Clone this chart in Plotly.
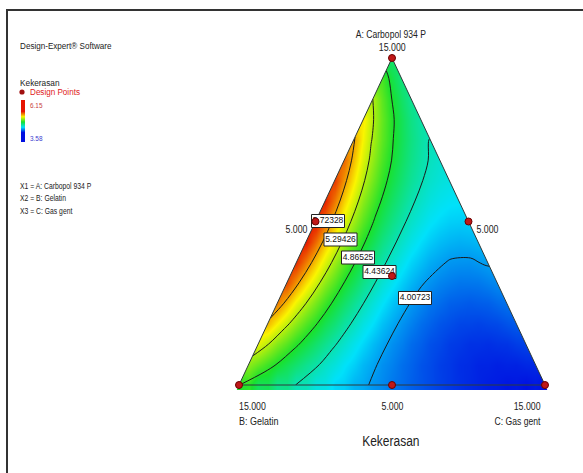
import json
import plotly.graph_objects as go

W, H = 583, 473
N = 16  # divisions of each simplex side

# Kekerasan read on the simplex lattice: row i -> A = i/N ; entry j -> C = j/N ; B = 1 - A - C
kek_r00 = [4.870, 4.713, 4.567, 4.430, 4.304, 4.188, 4.082, 3.986, 3.900, 3.824, 3.759, 3.704, 3.659, 3.624, 3.599, 3.584, 3.580]
kek_r01 = [5.181, 4.956, 4.748, 4.558, 4.385, 4.231, 4.094, 3.974, 3.873, 3.789, 3.723, 3.674, 3.644, 3.631, 3.636, 3.658]
kek_r02 = [5.450, 5.163, 4.901, 4.665, 4.454, 4.268, 4.108, 3.973, 3.863, 3.778, 3.719, 3.685, 3.676, 3.693, 3.735]
kek_r03 = [5.675, 5.334, 5.026, 4.751, 4.509, 4.300, 4.124, 3.980, 3.870, 3.792, 3.747, 3.735, 3.756, 3.810]
kek_r04 = [5.856, 5.470, 5.123, 4.817, 4.552, 4.327, 4.142, 3.998, 3.894, 3.831, 3.808, 3.826, 3.884]
kek_r05 = [5.995, 5.569, 5.192, 4.863, 4.581, 4.348, 4.163, 4.025, 3.936, 3.895, 3.901, 3.956]
kek_r06 = [6.090, 5.633, 5.233, 4.887, 4.598, 4.364, 4.185, 4.062, 3.995, 3.983, 4.027]
kek_r07 = [6.141, 5.662, 5.245, 4.892, 4.601, 4.374, 4.210, 4.109, 4.071, 4.097]
kek_r08 = [6.150, 5.654, 5.230, 4.875, 4.592, 4.379, 4.237, 4.166, 4.165]
kek_r09 = [6.115, 5.611, 5.186, 4.838, 4.569, 4.379, 4.266, 4.232]
kek_r10 = [6.037, 5.533, 5.114, 4.781, 4.534, 4.373, 4.297]
kek_r11 = [5.916, 5.418, 5.014, 4.703, 4.485, 4.361]
kek_r12 = [5.751, 5.268, 4.886, 4.604, 4.424]
kek_r13 = [5.543, 5.082, 4.729, 4.485]
kek_r14 = [5.292, 4.860, 4.545]
kek_r15 = [4.998, 4.603]
kek_r16 = [4.660]
kek_rows = [kek_r00, kek_r01, kek_r02, kek_r03, kek_r04, kek_r05, kek_r06, kek_r07, kek_r08,
            kek_r09, kek_r10, kek_r11, kek_r12, kek_r13, kek_r14, kek_r15, kek_r16]

contour_levels = [4.00723, 4.43624, 4.86525, 5.29426, 5.72328]
resp_min, resp_max = 3.58, 6.15

# design points (simplex-centroid), as proportions of A, B, C
design_A = [1, 0, 0, 0.5, 0.5, 0, 1 / 3]
design_B = [0, 1, 0, 0.5, 0, 0.5, 1 / 3]
design_C = [0, 0, 1, 0, 0.5, 0.5, 1 / 3]

# ---------------------------------------------------------------- geometry (pixels)
BLx, BRx, By, Ty = 239, 545, 385, 58
ux = (BRx - BLx) / (2 * N)
uy = (By - Ty) / N
padpx = 5
x0p, x1p = BLx - padpx, BRx + padpx
y0p, y1p = By + padpx, Ty - padpx

def to_xy(a, b, c):
    return 2 * N * c + N * a, N * a

# scattered lattice for the colour field (heatmap)
xs, ys, zs = [], [], []
for i, row in enumerate(kek_rows):
    for j, v in enumerate(row):
        xs.append(2 * j + i)
        ys.append(i)
        zs.append(v)
    # copies of the edge readings just outside the sides (hidden under the white mask)
    xs += [i - 1, 2 * N - i + 1]
    ys += [i, i]
    zs += [row[0], row[-1]]

# carpet (A index, C index) grid for the contour lines
a_idx = list(range(N + 1))
c_idx = list(range(N + 1))
carp_x = [[2 * j + i for i in a_idx] for j in c_idx]
carp_y = [[i for i in a_idx] for j in c_idx]
carp_z = [[kek_rows[i][min(j, N - i)] for i in a_idx] for j in c_idx]

colorscale = [[0.0, 'rgb(0,15,225)'], [0.25, 'rgb(0,225,250)'], [0.5, 'rgb(25,225,45)'],
              [0.75, 'rgb(250,245,0)'], [1.0, 'rgb(230,20,0)']]

FONT = "Liberation Sans, Arial, sans-serif"

fig = go.Figure()
fig.add_trace(go.Heatmap(x=xs, y=ys, z=zs, zmin=resp_min, zmax=resp_max, zauto=False,
                         colorscale=colorscale, zsmooth='best', connectgaps=True,
                         showscale=False, hoverinfo='skip'))

hidden_axis = dict(showgrid=False, showline=False, showticklabels='none', startline=False,
                   endline=False, minorgridcount=0, smoothing=0, gridcolor='rgba(0,0,0,0)',
                   linecolor='rgba(0,0,0,0)')
fig.add_trace(go.Carpet(carpet='tri', a=a_idx, b=c_idx, x=carp_x, y=carp_y,
                        aaxis=hidden_axis, baxis=hidden_axis))
step = (contour_levels[-1] - contour_levels[0]) / (len(contour_levels) - 1)
fig.add_trace(go.Contourcarpet(
    carpet='tri', z=carp_z, autocontour=False, showscale=False,
    contours=dict(start=contour_levels[0], end=contour_levels[-1] + 1e-4, size=step,
                  coloring='none', showlabels=False),
    line=dict(color='#1a1a1a', width=1, smoothing=1)))

# white mask outside the triangle
mx = [-3, 0, N, 2 * N, 2 * N + 3, 2 * N + 3, -3, -3]
my = [-3, 0, N, 0, -3, N + 3, N + 3, -3]
fig.add_trace(go.Scatter(x=mx, y=my, fill='toself', fillcolor='white', mode='lines',
                         line=dict(width=0, color='white'), hoverinfo='skip', showlegend=False))
# triangle outline
fig.add_trace(go.Scatter(x=[0, 2 * N, N, 0], y=[0, 0, N, 0], mode='lines',
                         line=dict(color='#2e3a3a', width=1), hoverinfo='skip', showlegend=False))

# boxed contour labels
label_px = [(415, 298), (379.5, 272), (358, 257.5), (340.5, 239.5), (328, 221)]
hw, hh = 16.5 / ux, 6.5 / uy
bx, by, tx, ty = [], [], [], []
for (px, py) in label_px:
    X, Y = (px - BLx) / ux, (By - py) / uy
    tx.append(X); ty.append(Y)
    bx += [X - hw, X + hw, X + hw, X - hw, X - hw, None]
    by += [Y - hh, Y - hh, Y + hh, Y + hh, Y - hh, None]
fig.add_trace(go.Scatter(x=bx, y=by, fill='toself', fillcolor='white', mode='lines',
                         line=dict(color='#222', width=1), hoverinfo='skip', showlegend=False))
fig.add_trace(go.Scatter(x=tx, y=ty, mode='text', text=[f'{v:.5f}' for v in contour_levels],
                         textposition='middle center', cliponaxis=False,
                         textfont=dict(size=8.5, color='#111', family=FONT),
                         hoverinfo='skip', showlegend=False))

# design points
dpx, dpy = zip(*[to_xy(a, b, c) for a, b, c in zip(design_A, design_B, design_C)])
fig.add_trace(go.Scatter(x=dpx, y=dpy, mode='markers', cliponaxis=False,
                         marker=dict(color='#c01818', size=7, line=dict(color='#6a0000', width=1)),
                         hoverinfo='skip', showlegend=False))

# colour-bar legend
fig.add_trace(go.Heatmap(z=[[resp_min], [resp_max]], x=[0], y=[0, 1], xaxis='x2', yaxis='y2',
                         colorscale=colorscale, zmin=resp_min, zmax=resp_max, zsmooth='best',
                         showscale=False, hoverinfo='skip'))

fig.update_layout(
    width=W, height=H, margin=dict(l=0, r=0, t=0, b=0),
    paper_bgcolor='white', plot_bgcolor='white', showlegend=False,
    font=dict(family=FONT, color='#222'),
    xaxis=dict(domain=[x0p / W, x1p / W], range=[-padpx / ux, 2 * N + padpx / ux],
               visible=False, fixedrange=True),
    yaxis=dict(domain=[1 - y0p / H, 1 - y1p / H], range=[-padpx / uy, N + padpx / uy],
               visible=False, fixedrange=True),
    xaxis2=dict(domain=[21 / W, 25 / W], range=[-0.5, 0.5], visible=False, anchor='y2'),
    yaxis2=dict(domain=[1 - 142 / H, 1 - 100 / H], range=[-0.5, 1.5], visible=False, anchor='x2'),
)

def P(px, py):
    return px / W, 1 - py / H

texts = [
    (18, 46, 'Design-Expert® Software', 9, '#222', 'left', 0.9),
    (18, 83, 'Kekerasan', 9, '#222', 'left', 0.92),
    (28, 92, 'Design Points', 9, '#e02020', 'left', 0.9),
    (28, 106, '6.15', 8, '#c84040', 'left', 0.8),
    (28, 138.5, '3.58', 8, '#4040d0', 'left', 0.8),
    (18, 185.5, 'X1 = A: Carbopol 934 P', 8.5, '#222', 'left', 0.8),
    (18, 198, 'X2 = B: Gelatin', 8.5, '#222', 'left', 0.8),
    (18, 211, 'X3 = C: Gas gent', 8.5, '#222', 'left', 0.8),
    (391, 34, 'A: Carbopol 934 P', 10, '#222', 'center', 0.86),
    (392, 47, '15.000', 10, '#222', 'center', 0.88),
    (296.5, 230, '5.000', 10, '#222', 'center', 0.88),
    (487.5, 230, '5.000', 10, '#222', 'center', 0.88),
    (237, 406, '15.000', 10, '#222', 'left', 0.88),
    (237, 421, 'B: Gelatin', 10, '#222', 'left', 0.9),
    (392, 406, '5.000', 10, '#222', 'center', 0.88),
    (543, 406, '15.000', 10, '#222', 'right', 0.88),
    (543, 421, 'C: Gas gent', 10, '#222', 'right', 0.86),
    (391, 440, 'Kekerasan', 15, '#222', 'center', 0.8),
]
ann, scales, origins = [], [], []
for px, py, s, size, color, xa, sx in texts:
    x, y = P(px, py)
    ann.append(dict(x=x, y=y, xref='paper', yref='paper', text=s, showarrow=False,
                    xanchor=xa, yanchor='middle', font=dict(size=size, color=color, family=FONT)))
    scales.append(sx)
    origins.append(xa)

cx, cy = P(22, 92)
r = 2.6
fig.update_layout(annotations=ann, shapes=[
    dict(type='line', xref='paper', yref='paper', x0=6 / W, x1=1, y0=1 - 10 / H, y1=1 - 10 / H,
         line=dict(color='#333', width=2)),
    dict(type='line', xref='paper', yref='paper', x0=7 / W, x1=7 / W, y0=1 - 10 / H, y1=0,
         line=dict(color='#333', width=2)),
    dict(type='circle', xref='paper', yref='paper', x0=cx - r / W, x1=cx + r / W,
         y0=cy - r / H, y1=cy + r / H, fillcolor='#a01010', line=dict(width=0)),
])

js = """
document.body.style.margin = '0px';
document.body.style.overflow = 'hidden';
var gd = document.getElementById('{plot_id}');
var sx = %s;
var org = %s;
gd.querySelectorAll('g.annotation').forEach(function (g) {
    var i = parseInt(g.getAttribute('data-index'));
    if (isNaN(i) || sx[i] === undefined) { return; }
    var t = g.querySelector('text.annotation-text');
    if (!t) { return; }
    t.style.transformBox = 'fill-box';
    t.style.transformOrigin = org[i] + ' center';
    t.style.transform = 'scaleX(' + sx[i] + ')';
});
""" % (json.dumps(scales), json.dumps(origins))

fig.write_html("out.html", post_script=js, config={'displayModeBar': False, 'staticPlot': True})
